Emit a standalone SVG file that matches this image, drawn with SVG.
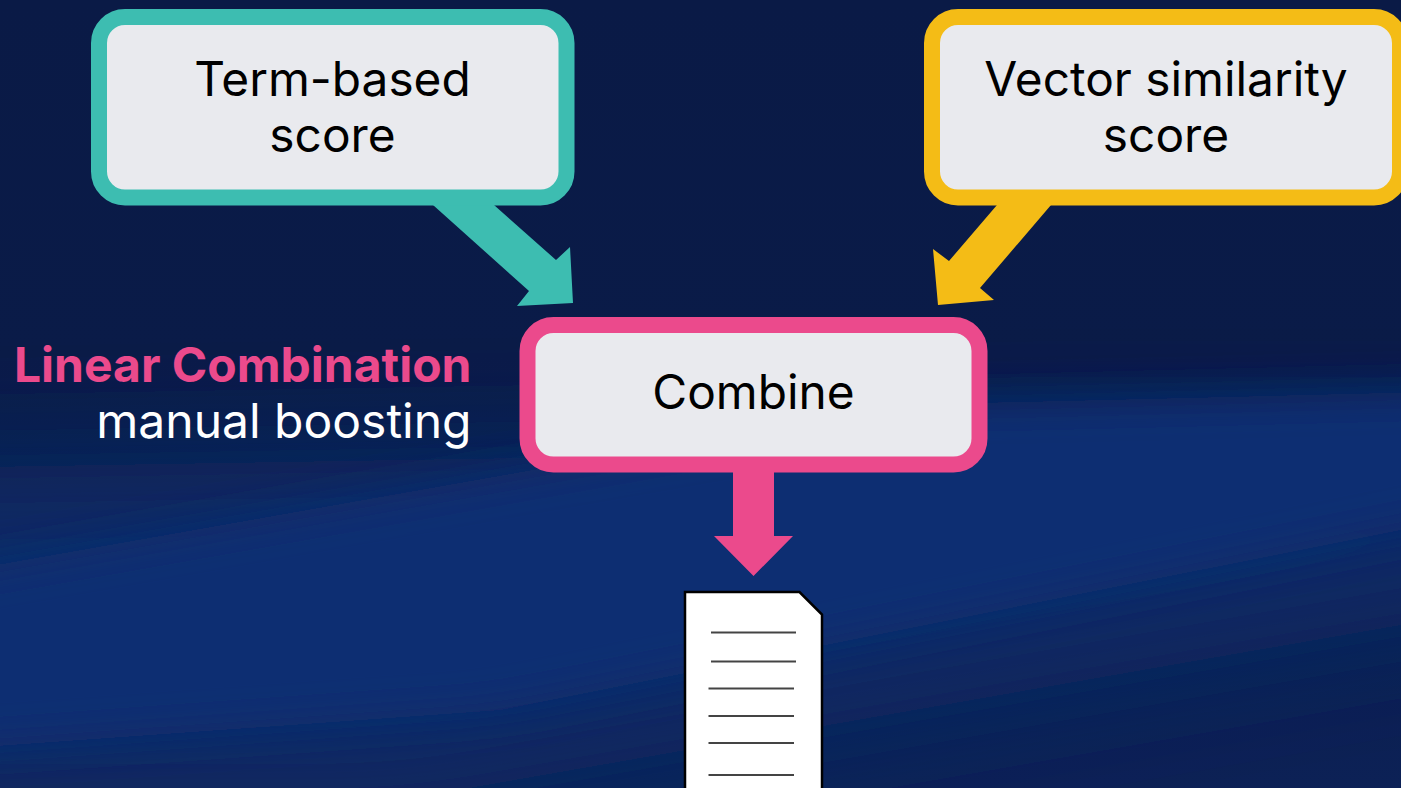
<svg xmlns="http://www.w3.org/2000/svg" width="1401" height="788" viewBox="0 0 1401 788">
<defs>
<linearGradient id="bg" x1="0" y1="0" x2="0" y2="1">
<stop offset="0" stop-color="#0a1a46"/>
<stop offset="0.45" stop-color="#0a1b48"/>
<stop offset="1" stop-color="#0c2156"/>
</linearGradient>
<filter id="soft" x="-20%" y="-60%" width="140%" height="220%"><feGaussianBlur stdDeviation="38 20"/></filter>
<filter id="wide" x="-20%" y="-60%" width="140%" height="220%"><feGaussianBlur stdDeviation="55"/></filter>
<style>
.box{fill:#e9eaee;stroke-width:16}
.t{font-family:Inter,"Liberation Sans",sans-serif;font-size:47.800px;font-weight:370;fill:#000;text-anchor:middle}
.side{font-family:Inter,"Liberation Sans",sans-serif;font-size:48px;text-anchor:end}
.ln{stroke:#444;stroke-width:2;fill:none}
</style>
</defs>
<rect width="1401" height="788" fill="url(#bg)"/>
<g id="background-glow">
<polygon points="-200,470 -200,800 400,800 1600,590 1600,450 1000,450" fill="#0e2966" filter="url(#wide)"/>
<polygon points="-200,600 -200,760 500,710 1600,490 1600,388 900,405" fill="#102e72" filter="url(#soft)"/>
</g>
<g id="connectors">
<polygon fill="#3dbdb1" points="433,205 494,205 556,260 570,247 573,303 517,306 529,291"/>
<polygon fill="#f4bc16" points="997,205 1051,205 980,288 994,300 938,305 933,249 949,261"/>
<polygon fill="#eb4a8c" points="733,470 774,470 774,536 793,536 753.500,576 714,536 733,536"/>
</g>
<g id="term-node">
<rect class="box" x="99" y="17" width="467.500" height="180.500" rx="26" stroke="#3dbdb1"/>
<text class="t" x="332.500" y="95.500">Term-based</text>
<text class="t" x="332.500" y="152">score</text>
</g>
<g id="vector-node">
<rect class="box" x="932" y="17" width="468" height="180.500" rx="26" stroke="#f4bc16"/>
<text class="t" x="1166" y="95.500">Vector similarity</text>
<text class="t" x="1166" y="152">score</text>
</g>
<g id="combine-node">
<rect class="box" x="527.500" y="325" width="452" height="139.500" rx="26" stroke="#eb4a8c"/>
<text class="t" x="753.500" y="409">Combine</text>
</g>
<g id="side-label">
<text class="side" x="471.500" y="382" fill="#eb4a8c" font-weight="700">Linear Combination</text>
<text class="side" x="471.500" y="438" fill="#fff" font-weight="370">manual boosting</text>
</g>
<g id="document">
<path d="M685 790V592H799.500L822 614.500V790" fill="#fff" stroke="#000" stroke-width="2.500"/>
<path class="ln" d="M711 632.500H796M711 661.500H796M708.500 688.500H794M708.500 716H794M708.500 743H794M708.500 775H794"/>
</g>
</svg>
